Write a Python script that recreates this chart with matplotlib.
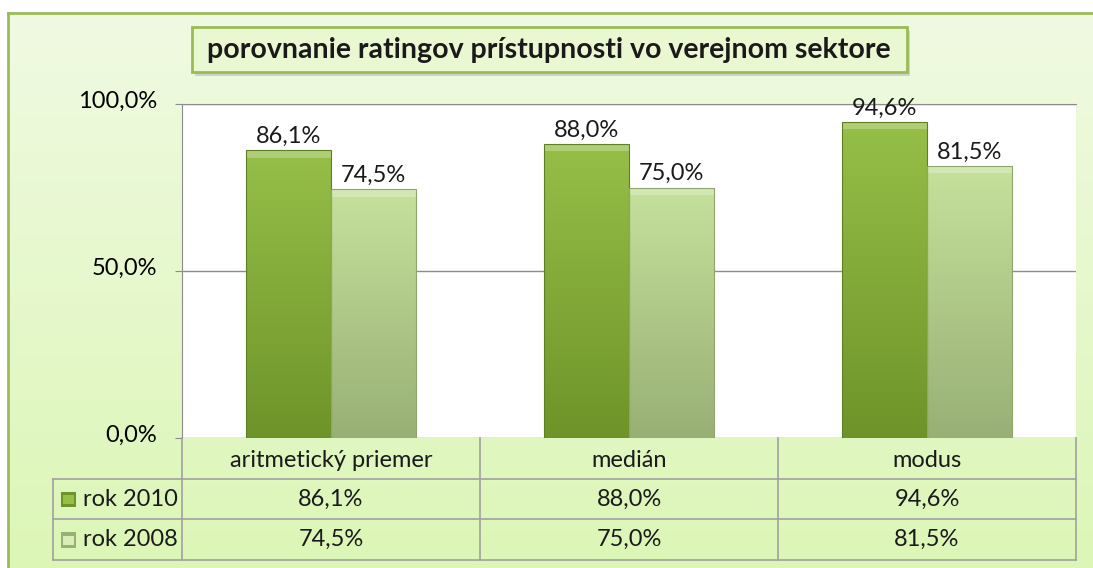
import numpy as np
import matplotlib.pyplot as plt
from matplotlib.patches import Rectangle, FancyBboxPatch
from matplotlib.colors import LinearSegmentedColormap
from matplotlib.transforms import offset_copy

plt.rcParams['font.family'] = ['Lato', 'DejaVu Sans']

# data
categories = ['aritmetický priemer', 'medián', 'modus']
series_names = ['rok 2010', 'rok 2008']
values_2010 = [86.1, 88.0, 94.6]
values_2008 = [74.5, 75.0, 81.5]
yticks = [0, 50, 100]
title = 'porovnanie ratingov prístupnosti vo verejnom sektore'

W, H = 1093, 568
fs = 17
fig = plt.figure(figsize=(W / 100, H / 100), dpi=100)
fig.patch.set_facecolor('white')

def px(x0, y0, x1, y1):
    # pixel box -> figure rect
    return [x0 / W, 1 - y1 / H, (x1 - x0) / W, (y1 - y0) / H]

def pct(v):
    return f'{v:.1f}%'.replace('.', ',')

# chart background with gradient and green frame
bg = fig.add_axes(px(8, 13, W + 2, H + 2), zorder=-5)
grad = np.linspace(0, 1, 256).reshape(-1, 1)
bg_cmap = LinearSegmentedColormap.from_list('bg', ['#F0FAE2', '#DCF6B6'])
bg.imshow(grad, aspect='auto', cmap=bg_cmap, extent=[0, 1, 0, 1], origin='upper')
bg.set_xlim(0, 1)
bg.set_ylim(0, 1)
bg.set_xticks([])
bg.set_yticks([])
for s in ['right', 'bottom']:
    bg.spines[s].set_visible(False)
for s in ['left', 'top']:
    bg.spines[s].set_color('#9BBB59')
    bg.spines[s].set_linewidth(2)

# main plot area
ax = fig.add_axes(px(182, 104, 1076, 438))
ax.set_facecolor('white')
x = np.arange(len(categories))
bw = 0.285
c1 = LinearSegmentedColormap.from_list('c1', ['#96BF48', '#6E9429'])
c2 = LinearSegmentedColormap.from_list('c2', ['#C6E19C', '#98B075'])
for vals, off, cm, ec in [(values_2010, -bw / 2, c1, '#5E7F22'), (values_2008, bw / 2, c2, '#8EA56C')]:
    bars = ax.bar(x + off, vals, bw, color='none', edgecolor=ec, linewidth=0.8, zorder=3)
    for b, v in zip(bars, vals):
        x0 = b.get_x()
        im = ax.imshow(grad, aspect='auto', cmap=cm, extent=[x0, x0 + bw, 0, v],
                       origin='upper', zorder=2)
        im.set_clip_path(b)
        # light top bevel
        ax.add_patch(Rectangle((x0, v - 2.2), bw, 2.2, color='white', alpha=0.25, lw=0, zorder=2.5))
        ax.text(x0 + bw / 2, v + 1.0, pct(v), ha='center', va='bottom',
                fontsize=fs, color='#1a1a1a', zorder=4)

ax.set_xlim(-0.5, 2.5)
ax.set_ylim(0, 100)
ax.set_yticks(yticks)
ax.set_yticklabels([pct(t) for t in yticks], fontsize=fs, va='center')
ax.yaxis.grid(True, color='#8C8C8C', linewidth=1)
ax.set_axisbelow(True)
ax.set_xticks([])
ax.tick_params(axis='y', length=5, color='#8C8C8C', pad=13)
for s in ['right', 'bottom']:
    ax.spines[s].set_visible(False)
ax.spines['top'].set_color('#8C8C8C')
ax.spines['left'].set_color('#8C8C8C')
# labels sit a little above their tick
for lbl in ax.get_yticklabels():
    lbl.set_transform(offset_copy(lbl.get_transform(), fig=fig, x=0, y=3, units='dots'))

# data table below the plot
leg_w = 129 / 298
tb = fig.add_axes(px(53, 438, 1076, 560))
tb.set_xlim(-0.5 - leg_w, 2.5)
tb.set_ylim(3, 0)
tb.axis('off')
lc = '#A0A0A0'
for xv in [-0.5, 0.5, 1.5, 2.5]:
    tb.plot([xv, xv], [0, 3], color=lc, lw=1.2, clip_on=False)
tb.plot([-0.5 - leg_w, -0.5 - leg_w], [1, 3], color=lc, lw=1.2, clip_on=False)
for yv in [1, 2, 3]:
    tb.plot([-0.5 - leg_w, 2.5], [yv, yv], color=lc, lw=1.2, clip_on=False)
for i, c in enumerate(categories):
    tb.text(i, 0.55, c, ha='center', va='center', fontsize=fs, color='#1a1a1a')
key_cols = [('#96BF48', '#6E9429'), ('#D8EDB8', '#98B075')]
for r, (name, vals) in enumerate([(series_names[0], values_2010), (series_names[1], values_2008)]):
    yc = 1.5 + r
    for i, v in enumerate(vals):
        tb.text(i, yc, pct(v), ha='center', va='center', fontsize=fs, color='#1a1a1a')
    tb.add_patch(Rectangle((-0.5 - leg_w + 0.026, yc - 0.18), 0.05, 0.38,
                           facecolor=key_cols[r][1], edgecolor='none'))
    tb.add_patch(Rectangle((-0.5 - leg_w + 0.033, yc - 0.1), 0.036, 0.22,
                           facecolor=key_cols[r][0], edgecolor='none'))
    tb.text(-0.5 - leg_w + 0.1, yc, name, ha='left', va='center', fontsize=fs, color='#1a1a1a')

# title box
tax = fig.add_axes([0, 0, 1, 1], zorder=5)
tax.set_xlim(0, W)
tax.set_ylim(H, 0)
tax.axis('off')
tax.add_patch(FancyBboxPatch((195, 31), 715, 45, boxstyle='square,pad=0', facecolor='#A8A8A8',
                             edgecolor='none', alpha=0.45))
tax.add_patch(FancyBboxPatch((192, 27), 715, 45, boxstyle='square,pad=0', facecolor='#EAF8D2',
                             edgecolor='#9BBB59', linewidth=2))
tax.text(549, 50, title, ha='center', va='center', fontsize=20.5, fontweight='bold', color='#1a1a1a')

fig.savefig('out.png', dpi=100)
